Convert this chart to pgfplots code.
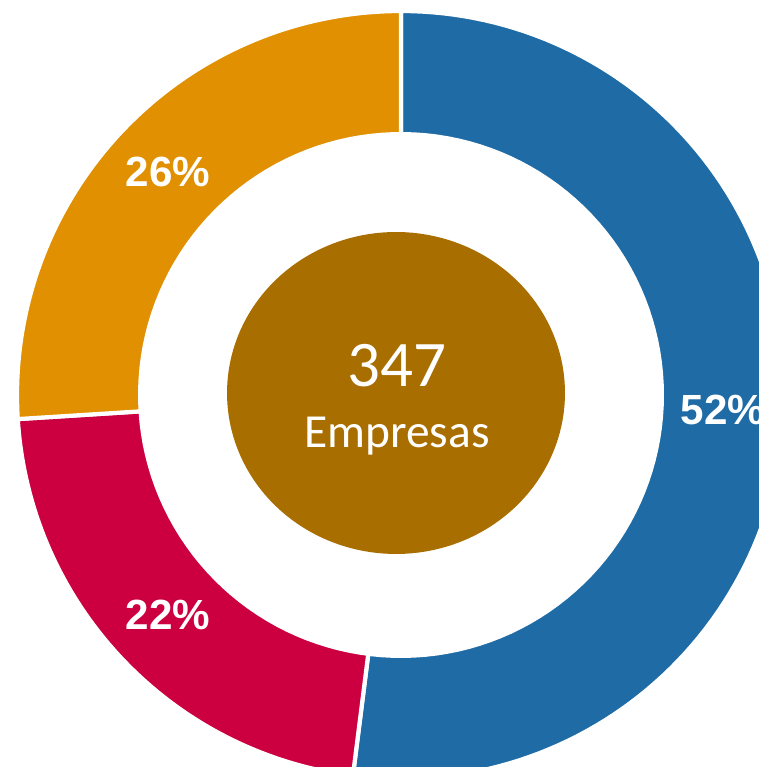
\documentclass[border=0pt]{standalone}
\usepackage{pgfplots}
\pgfplotsset{compat=1.18}
\usepackage{pgfplotstable}
\usepackage{fontspec}
\setmainfont{Liberation Sans}
\newfontfamily\carlito{Carlito}
\definecolor{cblue}{HTML}{1E6BA5}
\definecolor{cred}{HTML}{CC0040}
\definecolor{corange}{HTML}{E09000}
\definecolor{cbrown}{HTML}{A86E00}
\pgfplotstableread{
share
52
22
26
}\sharedata
\begin{document}%
\begin{tikzpicture}
\pgfplotstablegetelem{0}{share}\of\sharedata \let\sA\pgfplotsretval
\pgfplotstablegetelem{1}{share}\of\sharedata \let\sB\pgfplotsretval
\pgfplotstablegetelem{2}{share}\of\sharedata \let\sC\pgfplotsretval
\pgfmathsetmacro{\aA}{90-\sA*3.6}
\pgfmathsetmacro{\aB}{\aA-\sB*3.6}
\pgfmathsetmacro{\aC}{\aB-\sC*3.6}
\def\Rout{384}
\def\Rin{263}
\begin{axis}[
  scale only axis,
  width=7.59cm, height=7.67cm,
  xmin=-401, xmax=358, ymin=-372, ymax=395,
  hide axis, clip=true,
]
% blue wedge
\addplot[fill=cblue, draw=white, line width=1.2pt, domain=\aA:90, samples=120, variable=\t]
  ({\Rout*cos(t)},{\Rout*sin(t)}) -- (0,0) -- cycle;
% red wedge
\addplot[fill=cred, draw=white, line width=1.2pt, domain=\aB:\aA, samples=80, variable=\t]
  ({\Rout*cos(t)},{\Rout*sin(t)}) -- (0,0) -- cycle;
% orange wedge
\addplot[fill=corange, draw=white, line width=1.2pt, domain=\aC:\aB, samples=80, variable=\t]
  ({\Rout*cos(t)},{\Rout*sin(t)}) -- (0,0) -- cycle;
% inner hole
\addplot[fill=white, draw=none, domain=0:360, samples=150, variable=\t]
  ({\Rin*cos(t)},{\Rin*sin(t)}) -- cycle;
% center disc
\addplot[fill=cbrown, draw=none, domain=0:360, samples=150, variable=\t]
  ({-5+169*cos(t)},{2+161*sin(t)}) -- cycle;
\node[text=white, font=\bfseries\fontsize{12}{14}\selectfont] at (axis cs:322,-15) {\sA\%};
\node[text=white, font=\bfseries\fontsize{12}{14}\selectfont] at (axis cs:-233,-220) {\sB\%};
\node[text=white, font=\bfseries\fontsize{12}{14}\selectfont] at (axis cs:-233,223) {\sC\%};
\node[text=white, anchor=base, font=\carlito\fontsize{18.5}{20}\selectfont] at (axis cs:-4,8) {347};
\node[text=white, anchor=base, font=\carlito\fontsize{13.5}{15}\selectfont] at (axis cs:-4,-53) {Empresas};
\end{axis}
\pgfresetboundingbox
\useasboundingbox (current axis.south west) rectangle (current axis.north east);
\end{tikzpicture}%
\end{document}
